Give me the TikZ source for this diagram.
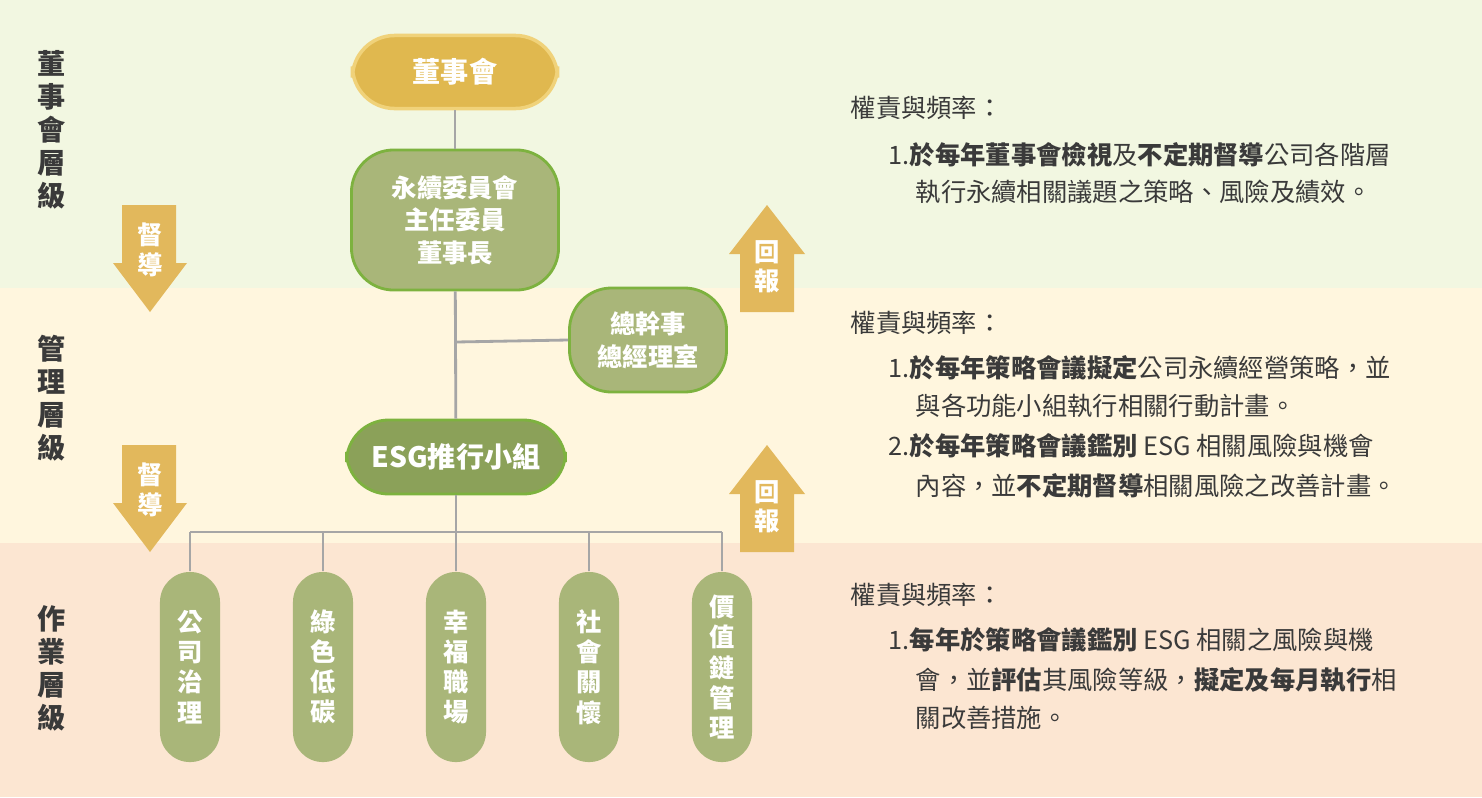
\documentclass[tikz,border=0pt]{standalone}
\usepackage{fontspec}
\setmainfont{Noto Sans CJK TC}
\usetikzlibrary{positioning,calc}
\definecolor{bgtop}{HTML}{F2F7E1}
\definecolor{bgmid}{HTML}{FFF6DE}
\definecolor{bgbot}{HTML}{FCE6D2}
\definecolor{gold}{HTML}{E0B84F}
\definecolor{goldline}{HTML}{F0D27A}
\definecolor{olive}{HTML}{A9B679}
\definecolor{oliveline}{HTML}{7DB23F}
\definecolor{esg}{HTML}{8BA159}
\definecolor{arrowc}{HTML}{E2B85C}
\definecolor{txt}{HTML}{3A3A3A}
\tikzset{
board/.style={draw=goldline,line width=1pt,fill=gold,rounded corners=12pt,minimum width=2.05cm,minimum height=0.73cm,text=white,font=\fontsize{8}{10}\selectfont\bfseries},
unit/.style={draw=oliveline,line width=0.8pt,fill=olive,rounded corners=12pt,align=center,text=white,font=\fontsize{7.2}{9.2}\selectfont\bfseries},
pill/.style={draw=none,fill=olive,rounded corners=0.3cm,minimum width=0.6cm,minimum height=1.9cm,align=center,text=white,font=\fontsize{7.2}{8.6}\selectfont\bfseries},
level/.style={align=center,text=txt,font=\fontsize{8}{9.4}\selectfont\bfseries},
duty/.style={anchor=west,text=txt,font=\fontsize{7.2}{9}\selectfont,inner sep=0pt},
link/.style={draw=gray!70,line width=0.8pt},
arrtxt/.style={align=center,text=white,font=\fontsize{7.2}{8.4}\selectfont\bfseries}
}
\begin{document}
\begin{tikzpicture}[x=0.01cm,y=-0.01cm]
%%% bands
\fill[bgtop] (0,0) rectangle (1482,288);
\fill[bgmid] (0,288) rectangle (1482,543);
\fill[bgbot] (0,543) rectangle (1482,797);
\useasboundingbox (0,0) rectangle (1482,797);
%%% levels
\node[level] (lv1) at (52,130) {董\\事\\會\\層\\級};
\node[level] (lv2) at (52,398) {管\\理\\層\\級};
\node[level] (lv3) at (52,668) {作\\業\\層\\級};
%%% arrows
\foreach \y/\n in {205/1,445/2}
{
 \fill[arrowc] (122,\y) -- (176,\y) -- (176,\y+58) -- (187,\y+58) -- (150,\y+107) -- (113,\y+58) -- (122,\y+58) -- cycle;
 \node[arrtxt] (sup\n) at (150,\y+45) {督\\導};
 \fill[arrowc] (740,\y+107) -- (794,\y+107) -- (794,\y+49) -- (805,\y+49) -- (767,\y) -- (729,\y+49) -- (740,\y+49) -- cycle;
 \node[arrtxt] (rep\n) at (767,\y+62) {回\\報};
}
%%% nodes
\node[board] (brd) at (455,72) {董事會};
\node[unit,minimum width=2.07cm,minimum height=1.4cm] (com) at (455,220) {永續委員會\\主任委員\\董事長};
\node[unit,minimum width=1.57cm,minimum height=1.04cm] (gm) at (648,340) {總幹事\\總經理室};
\node[unit,fill=esg,minimum width=2.19cm,minimum height=0.74cm,font=\fontsize{8}{10}\selectfont\bfseries] (esg) at (456,457) {ESG推行小組};
\foreach \x/\t/\n in {190/公\\司\\治\\理/p1,323/綠\\色\\低\\碳/p2,456/幸\\福\\職\\場/p3,589/社\\會\\關\\懷/p4,722/價\\值\\鏈\\管\\理/p5}
  \node[pill] (\n) at (\x,667) {\t};
\coordinate (bus) at (456,532);
\coordinate (mid) at (456,342);
%%% links
\begin{scope}[on background layer/.try]
\draw[link] (brd) -- (com);
\draw[link] (com) -- (esg);
\draw[link] (mid) -- (gm.west);
\draw[link] (esg) -- (bus);
\draw[link] (p1.north |- bus) -- (p5.north |- bus);
\foreach \n in {p1,p2,p3,p4,p5}
  \draw[link] (\n.north |- bus) -- (\n.north);
\end{scope}
%%% duties
\node[duty] (h1) at (850,108) {權責與頻率：};
\node[duty] (a1) at (888,155) {1.\textbf{於每年董事會檢視}及\textbf{不定期督導}公司各階層};
\node[duty] (a2) at (915,192) {執行永續相關議題之策略、風險及績效。};
\node[duty] (h2) at (850,323) {權責與頻率：};
\node[duty] (b1) at (888,368) {1.\textbf{於每年策略會議擬定}公司永續經營策略，並};
\node[duty] (b2) at (915,406) {與各功能小組執行相關行動計畫。};
\node[duty] (b3) at (888,446) {2.\textbf{於每年策略會議鑑別} ESG 相關風險與機會};
\node[duty] (b4) at (915,486) {內容，並\textbf{不定期督導}相關風險之改善計畫。};
\node[duty] (h3) at (850,595) {權責與頻率：};
\node[duty] (c1) at (888,640) {1.\textbf{每年於策略會議鑑別} ESG 相關之風險與機};
\node[duty] (c2) at (915,680) {會，並\textbf{評估}其風險等級，\textbf{擬定及每月執行}相};
\node[duty] (c3) at (915,718) {關改善措施。};
\end{tikzpicture}
\end{document}
